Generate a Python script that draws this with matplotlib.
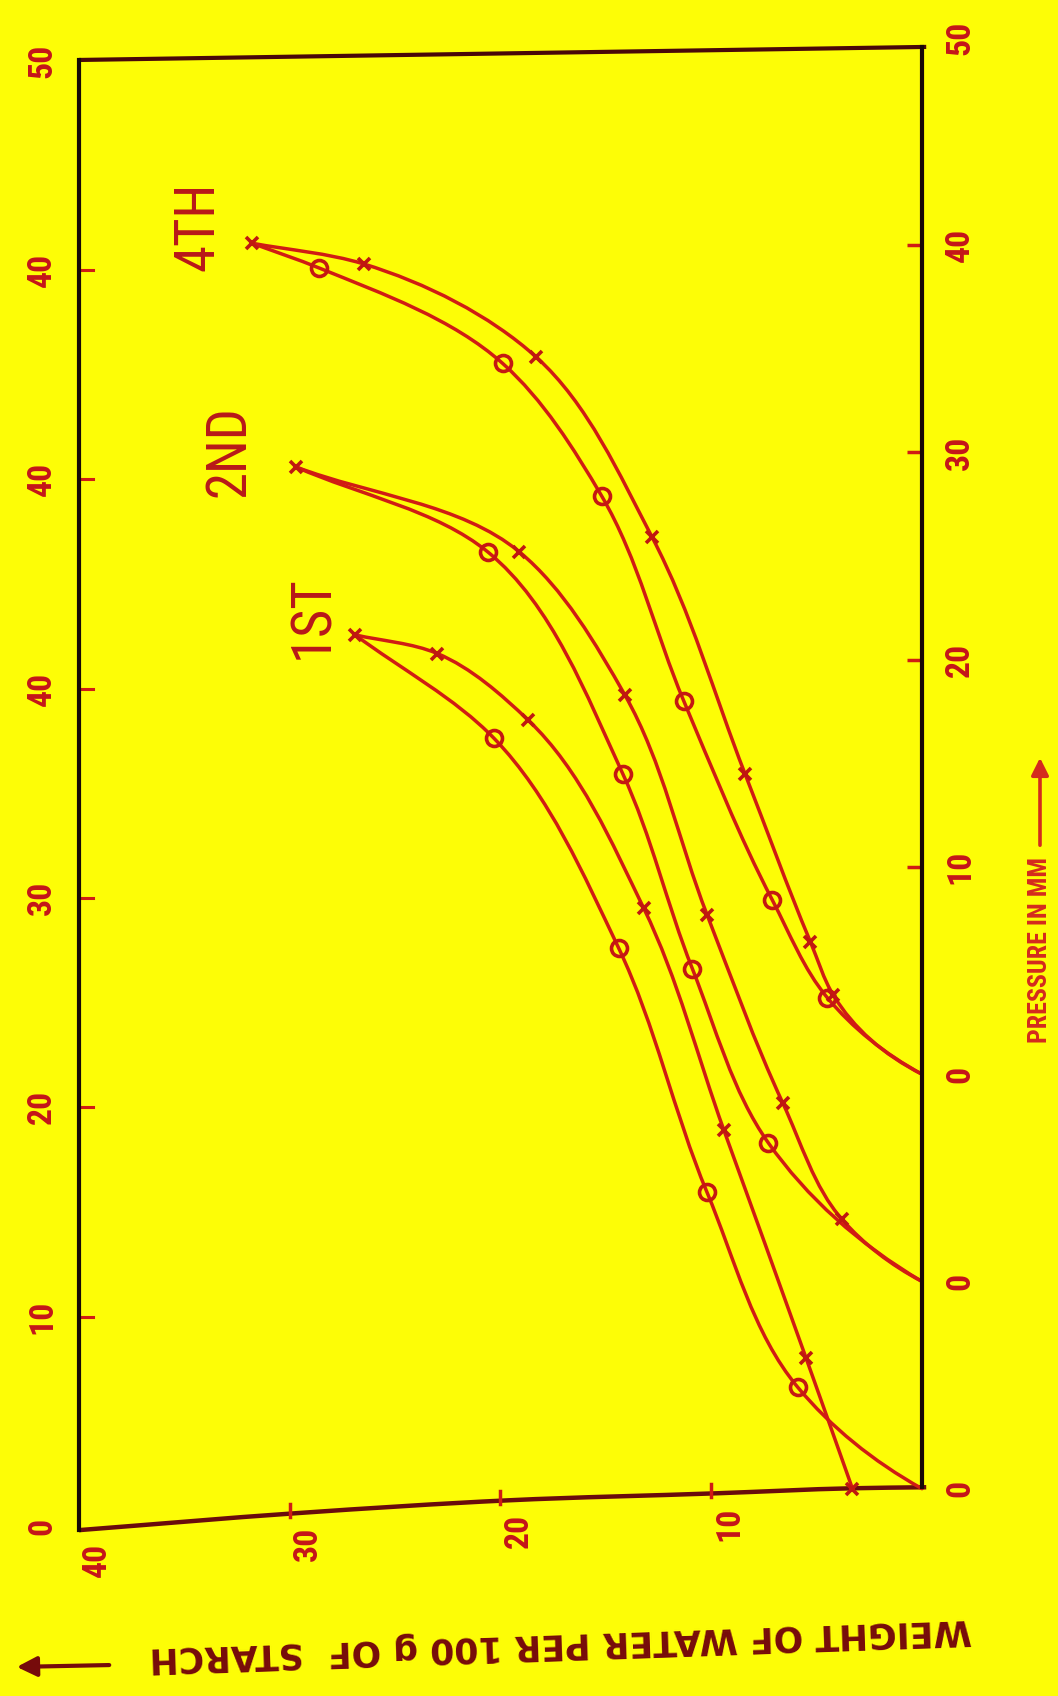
import os
import numpy as np
import matplotlib
matplotlib.use("Agg")
import matplotlib.pyplot as plt
from matplotlib import font_manager, transforms
from matplotlib.path import Path
from matplotlib.patches import PathPatch, FancyArrowPatch

# Water sorption isotherms of starch: weight of water per 100 g of starch
# against vapour pressure (mm).  Each run is measured from its own pressure
# zero; the runs are stacked by shifting that zero down the pressure scale.
run_labels = ["1ST", "2ND", "4TH"]
run_zero_shift = [-20, -10, 0]

first_ads_weight = [26.9, 23.0, 18.7, 13.2, 9.4, 5.5, 3.3]
first_ads_pressure = [41.2, 40.3, 37.1, 28.0, 17.3, 6.3, 0.0]
first_des_weight = [26.9, 20.3, 14.4, 10.2, 5.9, 0.0]
first_des_pressure = [41.2, 36.2, 26.1, 14.3, 4.9, 0.0]

second_ads_weight = [29.7, 19.1, 14.1, 10.2, 6.6, 3.8, 0.0]
second_ads_pressure = [39.3, 35.2, 28.3, 17.7, 8.6, 3.0, 0.0]
second_des_weight = [29.7, 20.6, 14.2, 10.9, 7.3, 0.0]
second_des_pressure = [39.3, 35.2, 24.5, 15.1, 6.7, 0.0]

fourth_ads_weight = [31.8, 26.5, 18.3, 12.8, 8.4, 5.3, 4.2, 0.0]
fourth_ads_pressure = [40.1, 39.1, 34.6, 25.9, 14.5, 6.4, 3.8, 0.0]
fourth_des_weight = [31.8, 28.6, 19.9, 15.2, 11.3, 7.1, 4.5, 0.0]
fourth_des_pressure = [40.1, 38.9, 34.3, 27.9, 18.0, 8.4, 3.7, 0.0]

# scale labels
right_tick_values = [50, 40, 30, 20, 10, 0, -10, -20]
right_tick_labels = ["50", "40", "30", "20", "10", "0", "0", "0"]
left_tick_values = [0, 10, 20, 30, 40, 50, 60, 70]
left_tick_labels = ["0", "10", "20", "30", "40", "40", "40", "50"]
weight_tick_values = [40, 30, 20, 10]
weight_tick_labels = ["40", "30", "20", "10"]

# ---------------------------------------------------------------- style
BG = "#fdfd06"
RED = "#d01c14"
LABEL_RED = "#c4151a"
DARK = "#170806"
MAROON = "#760b0b"


def pick_condensed():
    """Narrowest installed sans face available for the lettering."""
    candidates = [("Liberation Sans Narrow", "normal"),
                  ("Noto Sans", "extra-condensed"),
                  ("Noto Sans", "condensed"),
                  ("Roboto Condensed", "normal"),
                  ("Roboto", "condensed"),
                  ("Open Sans", "condensed"),
                  ("DejaVu Sans", "condensed")]
    for fam, st in candidates:
        try:
            path = font_manager.findfont(
                font_manager.FontProperties(family=fam, stretch=st),
                fallback_to_default=False)
        except Exception:
            continue
        name = os.path.basename(path).lower()
        if "narrow" in name or "cond" in name:
            return fam, st
    return "Liberation Sans", "normal"


COND_FAMILY, COND_STRETCH = pick_condensed()
COND = dict(family=[COND_FAMILY, "DejaVu Sans"], fontstretch=COND_STRETCH)


def smooth_path(xs, ys, reflect_end=True):
    """Chord-length Catmull-Rom curve through the points, as cubic Beziers."""
    p = np.column_stack([xs, ys]).astype(float)
    n = len(p)
    d = np.diff(p, axis=0)
    dt = np.hypot(d[:, 0], d[:, 1])
    dt[dt == 0] = 1e-6
    m = np.zeros_like(p)
    for i in range(1, n - 1):
        a, b = dt[i - 1], dt[i]
        m[i] = (d[i - 1] / a * b + d[i] / b * a) / (a + b)
    m[0] = d[0] / dt[0]
    if reflect_end and n > 2:
        m[-1] = 2 * d[-1] / dt[-1] - m[-2]
    else:
        m[-1] = d[-1] / dt[-1]
    verts = [p[0]]
    codes = [Path.MOVETO]
    for i in range(n - 1):
        verts += [p[i] + m[i] * dt[i] / 3, p[i + 1] - m[i + 1] * dt[i] / 3, p[i + 1]]
        codes += [Path.CURVE4] * 3
    return Path(verts, codes)


W, H = 1058, 1696
fig = plt.figure(figsize=(W / 100, H / 100), dpi=100, facecolor=BG)
renderer = fig.canvas.get_renderer()


def fit_size(text, length_px, **props):
    """Font size giving the string the requested run length in pixels."""
    t = fig.text(0, 0, text, fontsize=20, **props)
    w = t.get_window_extent(renderer).width
    t.remove()
    return 20 * length_px / w


# plotting frame: weight runs right-to-left, pressure bottom-to-top
x0, x1, ytop, ybot = 79, 922, 38, 1532
ax = fig.add_axes([x0 / W, 1 - ybot / H, (x1 - x0) / W, (ybot - ytop) / H])
ax.set_facecolor(BG)
ax.set_xlim(40, 0)
ax.set_ylim(-22.09, 49.66)
ax.set_xticks([])

# frame outline (the drawing sheet is slightly skewed)
frame_bottom_w = [40.0, 29.66, 19.6, 9.68, 3.32, -0.2]
frame_bottom_p = [-22.0, -21.18, -20.56, -20.22, -19.98, -19.93]
frame_top_w = [40.0, -0.2]
frame_top_p = [48.94, 49.57]

for side in ("top", "bottom"):
    ax.spines[side].set_visible(False)
ax.spines["left"].set_bounds(frame_bottom_p[0], frame_top_p[0])
ax.spines["right"].set_bounds(frame_bottom_p[-1], frame_top_p[-1])
for side in ("left", "right"):
    ax.spines[side].set_color(DARK)
    ax.spines[side].set_linewidth(3)

ax.plot(frame_top_w, frame_top_p, color="#4a0808", lw=3, clip_on=False,
        solid_capstyle="butt")
ax.add_patch(PathPatch(smooth_path(frame_bottom_w, frame_bottom_p, False),
                       facecolor="none", edgecolor="#6a0c0c", lw=3.2,
                       clip_on=False))

digit_size = fit_size("40", 34, fontweight="bold", **COND)

# right-hand pressure scale
ax.yaxis.tick_right()
major_r = [v for v in right_tick_values if 0 < v < 50]
minor_r = [v for v in right_tick_values if v not in major_r]
ax.set_yticks(major_r)
ax.set_yticklabels([right_tick_labels[right_tick_values.index(v)] for v in major_r])
ax.set_yticks(minor_r, minor=True)
ax.set_yticklabels([right_tick_labels[right_tick_values.index(v)] for v in minor_r],
                   minor=True)
ax.tick_params(axis="y", which="major", direction="in", length=11, width=2.5,
               color=RED)
ax.tick_params(axis="y", which="minor", length=0)
ax.tick_params(axis="y", which="both", labelrotation=90, labelsize=digit_size,
               labelcolor=LABEL_RED, pad=16)
for lab in ax.get_yticklabels(which="both"):
    lab.set_fontweight("bold")
    lab.set_family(COND["family"])
    lab.set_stretch(COND_STRETCH)
    lab.set_va("center")


# left-hand scale (laid against the skewed left edge)
def to_left(p):
    return (np.asarray(p) + 21.8) / 1.01


def from_left(v):
    return np.asarray(v) * 1.01 - 21.8


sec = ax.secondary_yaxis("left", functions=(to_left, from_left))
sec.spines["left"].set_visible(False)
sec.set_yticks(left_tick_values)
sec.set_yticklabels(left_tick_labels)
sec.tick_params(axis="y", which="major", length=0, labelrotation=90,
                labelsize=digit_size, labelcolor=LABEL_RED, pad=15)
for lab in sec.get_yticklabels():
    lab.set_fontweight("bold")
    lab.set_family(COND["family"])
    lab.set_stretch(COND_STRETCH)
    lab.set_va("center")
for v in left_tick_values[1:-1]:
    pv = from_left(v)
    ax.plot([40, 39.35], [pv, pv], color=RED, lw=2.2, clip_on=False)

# weight scale along the bottom edge
edge_w = np.array(frame_bottom_w[::-1])
edge_p = np.array(frame_bottom_p[::-1])
lab_tr = transforms.offset_copy(ax.transData, fig=fig, x=18, y=-30, units="dots")
for v, s in zip(weight_tick_values, weight_tick_labels):
    pe = np.interp(v, edge_w, edge_p)
    if v < 40:
        ax.plot([v, v], [pe - 0.15, pe + 0.45], color=RED, lw=2.5,
                clip_on=False)
    ax.text(v, pe, s, transform=lab_tr, rotation=90, ha="center",
            va="center", fontsize=digit_size, fontweight="bold",
            color=LABEL_RED, clip_on=False, **COND)

# isotherm loops
runs = [
    (first_ads_weight, first_ads_pressure, first_des_weight, first_des_pressure),
    (second_ads_weight, second_ads_pressure, second_des_weight, second_des_pressure),
    (fourth_ads_weight, fourth_ads_pressure, fourth_des_weight, fourth_des_pressure),
]
label_pos = [(28.9, 22.05), (32.9, 30.07), (34.36, 40.9)]
run_size = fit_size("2ND", 92, **COND)
for (aw, ap, dw, dp), shift, name, (lx, ly) in zip(runs, run_zero_shift,
                                                   run_labels, label_pos):
    aw = np.asarray(aw)
    dw = np.asarray(dw)
    ap = np.asarray(ap) + shift
    dp = np.asarray(dp) + shift
    for wx, py in ((aw, ap), (dw, dp)):
        ax.add_patch(PathPatch(smooth_path(wx, py), facecolor="none",
                               edgecolor=RED, lw=2.5, capstyle="round",
                               joinstyle="round", clip_on=False))
    keep = aw > 0
    ax.plot(aw[keep], ap[keep], linestyle="none", marker="x", ms=9, mew=2.6,
            color="#bf1810", clip_on=False)
    ax.plot(dw[1:-1], dp[1:-1], linestyle="none", marker="o", ms=11.5, mew=2.6,
            mfc="none", mec="#c41812", clip_on=False)
    ax.text(lx, ly, name, rotation=90, ha="center", va="center",
            fontsize=run_size, color="#b8181a", **COND)

# axis titles
fig.text(1040 / W, 1 - 950 / H, "PRESSURE IN MM", rotation=90, ha="center",
         va="center", fontweight="bold",
         fontsize=fit_size("PRESSURE IN MM", 186, fontweight="bold", **COND),
         color="#d42a1e", **COND)
fig.add_artist(FancyArrowPatch(
    (1040 / W, 1 - 848 / H), (1040 / W, 1 - 755 / H), transform=fig.transFigure,
    arrowstyle="-|>", mutation_scale=26, lw=2.6, color="#d42a1e"))

fig.text(561 / W, 1 - 1643 / H, "WEIGHT OF WATER PER 100 g OF  STARCH",
         rotation=182, rotation_mode="anchor", ha="center", va="center",
         fontsize=25, fontweight="bold", color=MAROON)
fig.add_artist(FancyArrowPatch(
    (112 / W, 1 - 1665 / H), (14 / W, 1 - 1667 / H), transform=fig.transFigure,
    arrowstyle="-|>", mutation_scale=30, lw=3, color=MAROON))

fig.savefig("out.png", dpi=100, facecolor=BG)
